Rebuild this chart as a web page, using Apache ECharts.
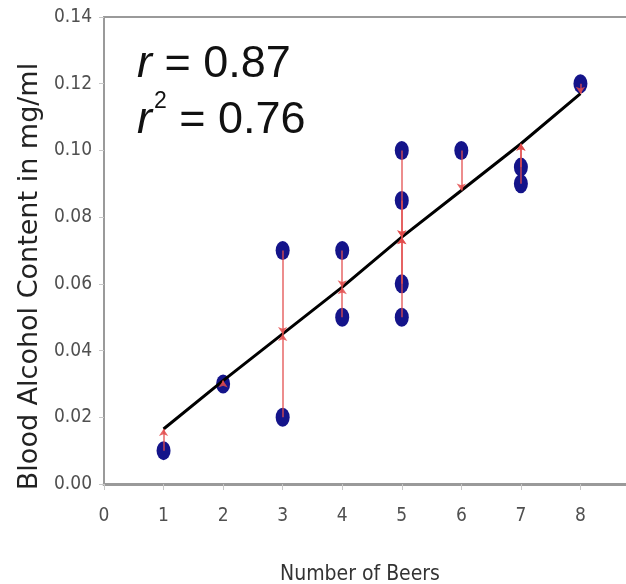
<!DOCTYPE html>
<html>
<head>
<meta charset="utf-8">
<script src="https://cdn.jsdelivr.net/npm/echarts@6/dist/echarts.min.js"></script>
<style>
  html, body { margin: 0; padding: 0; background: #fff; }
  #chart { width: 626px; height: 584px; }
</style>
</head>
<body>
<div id="chart"></div>
<script>
// observed points (beers, blood alcohol mg/ml)
const beers = [1, 2, 3, 3, 4, 4, 5, 5, 5, 5, 6, 7, 7, 8];
const bac = [0.01, 0.03, 0.07, 0.02, 0.07, 0.05, 0.10, 0.085, 0.06, 0.05, 0.10, 0.095, 0.09, 0.12];

// fitted line
const fitX = [1, 2, 3, 4, 5, 6, 7, 8];
const fitY = [0.0165, 0.031, 0.045, 0.059, 0.074, 0.088, 0.102, 0.117];

const xTicks = [0, 1, 2, 3, 4, 5, 6, 7, 8];
const yTicks = [0, 0.02, 0.04, 0.06, 0.08, 0.10, 0.12, 0.14];

const rText = "0.87";
const r2Text = "0.76";

const chart = echarts.init(document.getElementById("chart"));

const points = beers.map((b, i) => [b, bac[i]]);
const line = fitX.map((b, i) => [b, fitY[i]]);
const residuals = beers.map((b, i) => [
  { coord: [b, bac[i]] },
  { coord: [b, fitY[fitX.indexOf(b)]] },
]);

const narrow = "'DejaVu Sans Condensed', 'Liberation Sans Narrow', sans-serif";
const arial = "'Liberation Sans', Arial, sans-serif";

const option = {
  animation: false,
  grid: {
    left: 104,
    right: -14,
    top: 17,
    bottom: 100,
    outerBoundsMode: "none",
    show: true,
    borderColor: "#9a9a9a",
    borderWidth: 2,
  },
  xAxis: {
    type: "value",
    min: 0,
    max: 9,
    interval: 1,
    name: "Number of Beers",
    nameLocation: "middle",
    nameGap: 80,
    nameTextStyle: {
      fontFamily: narrow,
      fontSize: 21,
      color: "#333",
      padding: [0, 24, 0, 0],
    },
    axisLine: { lineStyle: { color: "#9a9a9a", width: 3 } },
    axisTick: { length: 6, lineStyle: { color: "#c8c8c8" } },
    axisLabel: {
      margin: 23,
      fontFamily: narrow,
      fontSize: 19,
      color: "#505050",
      formatter: (v) => (xTicks.includes(v) ? String(v) : ""),
    },
    splitLine: { show: false },
  },
  yAxis: {
    type: "value",
    min: 0,
    max: 0.14,
    interval: 0.02,
    name: "Blood Alcohol Content in mg/ml",
    nameLocation: "middle",
    nameGap: 48,
    nameTextStyle: {
      fontFamily: "'DejaVu Sans', sans-serif",
      fontSize: 27,
      color: "#222",
      padding: [0, 52, 0, 0],
    },
    axisLine: { show: true, lineStyle: { color: "#9a9a9a", width: 2 } },
    axisTick: { show: true, length: 5, lineStyle: { color: "#c8c8c8" } },
    axisLabel: {
      margin: 12,
      fontFamily: narrow,
      fontSize: 19,
      color: "#505050",
      formatter: (v) => v.toFixed(2),
    },
    splitLine: { show: false },
  },
  graphic: [
    {
      type: "text",
      left: 137,
      top: 42,
      style: {
        text: "{i|r}{n| = " + rText + "}",
        rich: {
          i: { fontFamily: arial, fontStyle: "italic", fontSize: 45, fill: "#111" },
          n: { fontFamily: arial, fontSize: 45, fill: "#111" },
        },
      },
    },
    {
      type: "text",
      left: 137,
      top: 90,
      style: {
        text: "{i|r}{s|2}{n| = " + r2Text + "}",
        rich: {
          i: { fontFamily: arial, fontStyle: "italic", fontSize: 45, fill: "#111", padding: [8, 0, 0, 0] },
          s: { fontFamily: arial, fontSize: 23, fill: "#111", verticalAlign: "top", padding: [0, 0, 0, 2] },
          n: { fontFamily: arial, fontSize: 45, fill: "#111", padding: [8, 0, 0, 0] },
        },
      },
    },
  ],
  series: [
    {
      type: "scatter",
      data: points,
      symbol: "circle",
      symbolSize: [14, 19],
      itemStyle: { color: "#14148a", opacity: 1 },
      z: 2,
    },
    {
      type: "line",
      data: line,
      showSymbol: false,
      lineStyle: { color: "#000", width: 3 },
      z: 3,
    },
    {
      type: "scatter",
      data: [],
      z: 4,
      markLine: {
        silent: true,
        symbol: ["none", "arrow"],
        symbolSize: 7,
        label: { show: false },
        lineStyle: { color: "#e24b4b", width: 1.5, type: "solid", opacity: 0.85 },
        data: residuals,
      },
    },
  ],
};

chart.setOption(option);
</script>
</body>
</html>
